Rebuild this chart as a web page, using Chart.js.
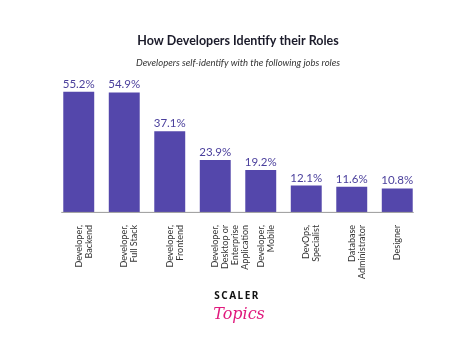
<!DOCTYPE html>
<html>
<head>
<meta charset="utf-8">
<script src="https://cdn.jsdelivr.net/npm/chart.js@4"></script>
<style>
  html, body { margin: 0; padding: 0; background: #fff; }
  canvas { display: block; }
</style>
</head>
<body>
<canvas id="roles" width="474" height="348"></canvas>
<script>
var roleLabels = [
    ["Developer,", "Backend"],
    ["Developer,", "Full Stack"],
    ["Developer,", "Frontend"],
    ["Developer,", "Desktop or", "Enterprise", "Application"],
    ["Developer,", "Mobile"],
    ["DevOps,", "Specialist"],
    ["Database", "Administrator"],
    ["Designer"]
];
var rolePercent = [55.2, 54.9, 37.1, 23.9, 19.2, 12.1, 11.6, 10.8];

var barColor = '#5447ab';
var labelColor = '#4a3f9c';

// value labels above bars + short baseline + brand mark at the bottom
var extras = {
    id: 'extras',
    afterDatasetsDraw: function (chart) {
        var ctx = chart.ctx;
        var meta = chart.getDatasetMeta(0);
        ctx.save();
        ctx.fillStyle = labelColor;
        ctx.font = '11.5px Lato';
        ctx.textAlign = 'center';
        ctx.textBaseline = 'bottom';
        meta.data.forEach(function (bar, i) {
            ctx.fillText(rolePercent[i].toFixed(1) + '%', bar.x, bar.y - 2);
        });

        var first = meta.data[0], last = meta.data[meta.data.length - 1];
        var base = chart.scales.y.getPixelForValue(0);
        ctx.strokeStyle = '#9a9a9a';
        ctx.lineWidth = 1;
        ctx.beginPath();
        ctx.moveTo(first.x - first.width / 2 - 2, base + 0.5);
        ctx.lineTo(last.x + last.width / 2 + 1, base + 0.5);
        ctx.stroke();

        var cx = 237;
        ctx.fillStyle = '#111';
        ctx.font = 'bold 10px "Noto Sans"';
        ctx.textBaseline = 'middle';
        ctx.letterSpacing = '1.5px';
        ctx.fillText('SCALER', cx, 296);
        ctx.letterSpacing = '0px';
        ctx.fillStyle = '#e0197d';
        ctx.font = 'italic 16px "DejaVu Serif"';
        ctx.fillText('Topics', cx + 2, 315);
        ctx.restore();
    }
};

new Chart(document.getElementById('roles'), {
    type: 'bar',
    data: {
        labels: roleLabels,
        datasets: [{
            data: rolePercent,
            backgroundColor: barColor,
            categoryPercentage: 0.8,
            barPercentage: 0.85
        }]
    },
    options: {
        responsive: false,
        animation: false,
        layout: { padding: { left: 56, right: 54, top: 0, bottom: 64 } },
        plugins: {
            legend: { display: false },
            tooltip: { enabled: false },
            title: {
                display: true,
                text: 'How Developers Identify their Roles',
                color: '#1b1b2a',
                font: { family: 'Lato', size: 12.5, weight: 'bold' },
                padding: { top: 33, bottom: 6 }
            },
            subtitle: {
                display: true,
                text: 'Developers self-identify with the following jobs roles',
                color: '#333',
                font: { family: 'Lato', size: 9.5, style: 'italic' },
                padding: { top: 3, bottom: 14 }
            }
        },
        scales: {
            x: {
                grid: { display: false },
                border: { display: false },
                ticks: {
                    minRotation: 90,
                    maxRotation: 90,
                    color: '#333',
                    padding: 5,
                    font: { family: 'Lato', size: 9, lineHeight: 1.1 }
                }
            },
            y: {
                display: false,
                min: 0,
                max: 59.5
            }
        }
    },
    plugins: [extras]
});
</script>
</body>
</html>
